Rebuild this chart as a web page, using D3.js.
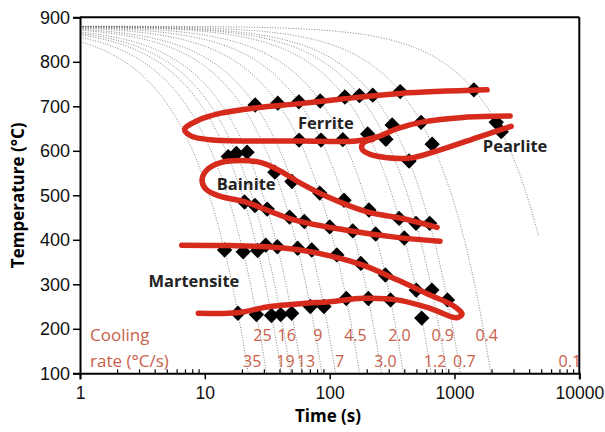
<!DOCTYPE html>
<html><head><meta charset="utf-8">
<script src="https://cdn.jsdelivr.net/npm/d3@7"></script>
<style>
body{margin:0;background:#fff;}
svg{display:block;font-family:"Open Sans",sans-serif;}
</style></head>
<body><svg id="c" width="605" height="432"></svg>
<script>
// ---------- data ----------
const startTemp = 880;                       // austenitising temperature (°C)
const coolingRates = [35,25,19,16,13,9,7,4.5,3.0,2.0,1.2,0.9,0.7,0.4,0.1];
const rateLabels   = ["35","25","19","16","13","9","7","4.5","3.0","2.0","1.2","0.9","0.7","0.4","0.1"];
const curveEndTemps = [100,100,100,100,100,100,100,100,100,100,100,100,100,100,410];
const xTicks = [1,10,100,1000,10000];
const yTicks = [100,200,300,400,500,600,700,800,900];

// transformation boundaries [time s, temperature °C]
const ferriteLine = [[1824,737],[366,729],[121,716],[57.9,706],[26.2,697],[13.2,684],[8.6,667],[6.9,648],
  [7.8,633],[11,625],[27.7,622],[60,622],[163,622],[240,631],[347,650],[560,665],[1172,675],[2790,678]];
const pearliteLine = [[222.7,626],[185,617],[181.8,604],[210.8,592],[424.6,583],[767,602],[1604,632],[2843,655]];
const bainiteLine = [[726,428],[366,449],[203,462],[97,496],[57.9,528],[40,555],[28.7,573],[19.15,578],[13.2,573],
  [10.4,557],[9.5,534],[10.2,514],[13.2,498],[21,485],[52.8,444],[133,422],[334,406],[767,397]];
const martensiteLine = [[6.53,388],[15.9,387],[33.3,384],[57.9,377],[100.7,364],[185,343],[347,310],[637,276],
  [922,256],[1109,240],[1150,233],[1043,225],[637,246],[347,265],[185,268.5],[100.7,261],[61.3,257],[33.3,250],[18.1,236],[8.87,235]];

// measured transformation points [time s, temperature °C]
const ferriteStartPts = [[25.3,703],[38.4,707],[56.7,710],[84,712],[132.5,721],[173.3,724],[221.4,725],[367.5,733],[1430,737]];
const ferriteEndPts = [[56.9,624],[85.3,624],[127.5,625],[201.7,638],[282.2,626],[317,658],[540,664],[2160,664]];
const pearliteEndPts = [[432.9,577],[662.5,615],[2370,643]];
const bainiteStartPts = [[15.4,587],[17.9,594],[21.8,597],[36.4,552],[49.9,531],[83.3,505],[130.3,489],[206.5,467],[360,448],[492.2,437],[632.9,437]];
const bainiteEndPts = [[20.8,485],[25.2,477],[31.6,469],[47.7,451],[62.7,441],[100.2,429],[153.3,420],[233.5,413],[396.7,404]];
const msPts = [[14.4,377],[20.3,373],[26.5,376],[30.75,388],[38.1,384.5],[55.4,381],[71.9,377],[114.2,366],[177.7,347],[279.5,321],[494.2,287],[658.9,287],[878.6,265]];
const mfPts = [[18.4,235],[25.9,232],[34.2,230],[40.5,232],[49.6,235],[70,250],[90,250],[136,268],[204,268],[307.5,265],[546.7,224]];

const phaseNames = ["Ferrite","Pearlite","Bainite","Martensite"];
const phasePos = [[55.8,649],[1686,597],[12.45,512],[3.53,294]]; // [time, temp] anchors (text start, baseline)

// ---------- chart ----------
const svg = d3.select("#c");
const L=80, R=579.3, T=17.3, B=373.3;
const x = d3.scaleLog().domain([1,10000]).range([L,R]);
const y = d3.scaleLinear().domain([100,900]).range([B,T]);

svg.append("defs").append("clipPath").attr("id","clip")
  .append("rect").attr("x",L).attr("y",T).attr("width",R-L).attr("height",B-T);

const plot = svg.append("g").attr("clip-path","url(#clip)");

// cooling curves: T = startTemp - rate * t
const lineGen = d3.line().x(d=>x(d[0])).y(d=>y(d[1]));
coolingRates.forEach((r,i)=>{
  const tEnd = (startTemp - curveEndTemps[i]) / r;
  const pts = [];
  const n = 160;
  for(let k=0;k<=n;k++){
    const t = Math.pow(10, Math.log10(tEnd)*k/n);
    pts.push([t, startTemp - r*t]);
  }
  plot.append("path").attr("d", lineGen(pts)).attr("fill","none")
    .attr("stroke","#666").attr("stroke-width",0.8).attr("stroke-dasharray","1,1.6");
});

// diamonds
const allPts = [].concat(ferriteStartPts, ferriteEndPts, pearliteEndPts, bainiteStartPts, bainiteEndPts, msPts, mfPts);
const sym = d3.symbol().type(d3.symbolSquare).size(118);
plot.selectAll("path.pt").data(allPts).join("path").attr("class","pt")
  .attr("d", sym)
  .attr("transform", d=>`translate(${x(d[0])},${y(d[1])}) rotate(45)`)
  .attr("fill","#000");

// red boundary lines
const curveGen = d3.line().x(d=>x(d[0])).y(d=>y(d[1])).curve(d3.curveCatmullRom.alpha(0.5));
[ferriteLine, pearliteLine, bainiteLine, martensiteLine].forEach(l=>{
  plot.append("path").attr("d", curveGen(l)).attr("fill","none")
    .attr("stroke","#d62a1d").attr("stroke-width",5.5).attr("stroke-linecap","round").attr("stroke-linejoin","round");
});

// phase labels
phaseNames.forEach((p,i)=>{
  svg.append("text").attr("x", x(phasePos[i][0])).attr("y", y(phasePos[i][1]))
    .attr("font-size",16.5).attr("font-weight","bold").attr("fill","#222").text(p);
});

// cooling rate labels
const labColor = "#c8604a";
coolingRates.forEach((r,i)=>{
  const tEnd = (startTemp - 100)/r;
  const top = i%2===1;
  svg.append("text").attr("x", x(tEnd) + (top ? -4 : 4)).attr("y", top ? 341 : 367)
    .attr("text-anchor","middle").attr("font-size",16).attr("fill",labColor).text(rateLabels[i]);
});
svg.append("text").attr("x",90).attr("y",341).attr("font-size",17).attr("fill",labColor).text("Cooling");
svg.append("text").attr("x",90).attr("y",367).attr("font-size",17).attr("fill",labColor).text("rate (°C/s)");

// axes
const xAxis = d3.axisBottom(x).tickValues(xTicks).tickFormat(d3.format("d")).tickSizeOuter(0).tickSize(6);
const gx = svg.append("g").attr("transform",`translate(0,${B})`).call(xAxis);
gx.selectAll("text").attr("font-size",17.5).attr("fill","#111").attr("dy","0.95em");
// minor ticks (inward)
const minor = [];
for(let d=1; d<10000; d*=10) for(let m=2;m<10;m++) minor.push(d*m);
svg.append("g").selectAll("line").data(minor).join("line")
  .attr("x1",d=>x(d)).attr("x2",d=>x(d)).attr("y1",B).attr("y2",B-4)
  .attr("stroke","#000").attr("stroke-width",1.2);

const yAxis = d3.axisLeft(y).tickValues(yTicks).tickSizeOuter(0).tickSize(7);
const gy = svg.append("g").attr("transform",`translate(${L},0)`).call(yAxis);
gy.selectAll("text").attr("font-size",18).attr("fill","#111");
[gx,gy].forEach(g=>{g.select(".domain").attr("stroke-width",2).attr("stroke","#000"); g.selectAll(".tick line").attr("stroke-width",1.5);});

// frame top/right
svg.append("line").attr("x1",L).attr("x2",R).attr("y1",T).attr("y2",T).attr("stroke","#000").attr("stroke-width",2);
svg.append("line").attr("x1",R).attr("x2",R).attr("y1",T).attr("y2",B).attr("stroke","#000").attr("stroke-width",2);

// axis titles
svg.append("text").attr("x",328).attr("y",422).attr("text-anchor","middle")
  .attr("font-size",17).attr("font-weight","bold").text("Time (s)");
svg.append("text").attr("transform",`translate(24,${(T+B)/2}) rotate(-90)`).attr("text-anchor","middle")
  .attr("font-size",17).attr("font-weight","bold").text("Temperature (°C)");
</script></body></html>
